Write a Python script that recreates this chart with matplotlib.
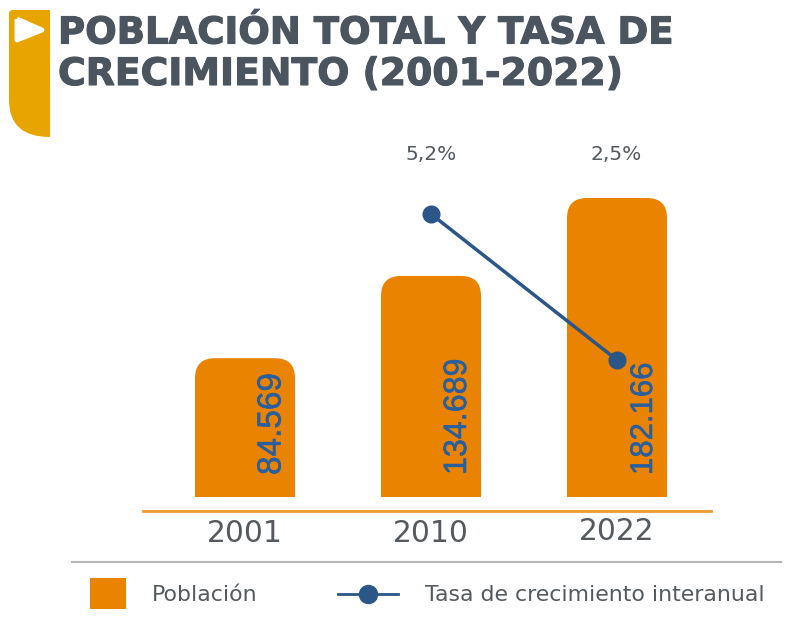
import matplotlib
matplotlib.use("Agg")
import matplotlib.pyplot as plt
import matplotlib.patheffects as pe
from matplotlib.patches import Rectangle, PathPatch
from matplotlib.path import Path

years = ["2001", "2010", "2022"]
poblacion = [84569, 134689, 182166]
labels = ["84.569", "134.689", "182.166"]
tasa = [5.2, 2.5]
tasa_labels = ["5,2%", "2,5%"]

W, H = 811, 628
ORANGE = "#ea8300"
BLUE = "#2a5688"
LABEL_BLUE = "#2a5f9e"
GREY = "#4a5560"
TEXT = "#555a5e"

plt.rcParams["font.family"] = ["DejaVu Sans"]

fig = plt.figure(figsize=(W / 100, H / 100), dpi=100)

# page overlay in pixel coords
bg = fig.add_axes([0, 0, 1, 1])
bg.set_xlim(0, W)
bg.set_ylim(H, 0)
bg.axis("off")

# title tab
tab = Path([(13, 10), (50, 10), (50, 137), (9, 137), (9, 100), (9, 14), (9, 10), (13, 10)],
           [Path.MOVETO, Path.LINETO, Path.LINETO, Path.CURVE3, Path.CURVE3,
            Path.LINETO, Path.CURVE3, Path.CURVE3])
bg.add_patch(PathPatch(tab, fc="#e8a400", ec="none"))
tri = Path([(17, 19), (42, 30), (17, 40), (17, 19)])
bg.add_patch(PathPatch(tri, fc="white", ec="white", lw=3.5, joinstyle="round"))

title_fx = [pe.withStroke(linewidth=0.8, foreground=GREY)]
bg.text(58, 33, "POBLACIÓN TOTAL Y TASA DE", fontsize=26.7, fontweight="bold", color=GREY,
        va="center", ha="left", path_effects=title_fx)
bg.text(58, 75, "CRECIMIENTO (2001-2022)", fontsize=27.2, fontweight="bold", color=GREY,
        va="center", ha="left", path_effects=title_fx)

# main axes: x data 0,1,2 -> px 245,431,617; y 0 at px 497
ax_left, ax_right = 143, 711
ax_top, ax_bottom = 140, 497
ax = fig.add_axes([ax_left / W, 1 - ax_bottom / H, (ax_right - ax_left) / W, (ax_bottom - ax_top) / H])
ax.axis("off")
step = 186
ax.set_xlim((ax_left - 245) / step, (ax_right - 245) / step)
px_per = (497 - 198) / poblacion[2]
ax.set_ylim(0, (ax_bottom - ax_top) / px_per)

bw = 100 / step
label_sizes = [24, 23.2, 22.4]
for i, v in enumerate(poblacion):
    left = i - bw / 2
    r_x = 20 / step
    r_y = 20 / px_per
    verts = [(left, 0), (left, v - r_y), (left, v), (left + r_x, v),
             (left + bw - r_x, v), (left + bw, v), (left + bw, v - r_y), (left + bw, 0), (left, 0)]
    codes = [Path.MOVETO, Path.LINETO, Path.CURVE3, Path.CURVE3, Path.LINETO,
             Path.CURVE3, Path.CURVE3, Path.LINETO, Path.CLOSEPOLY]
    ax.add_patch(PathPatch(Path(verts, codes), fc=ORANGE, ec="none"))
    ax.text(i + 27 / step, 22 / px_per, labels[i], rotation=90, ha="center", va="bottom",
            fontsize=label_sizes[i], color=LABEL_BLUE, family=["Liberation Sans"],
            path_effects=[pe.withStroke(linewidth=0.4, foreground=LABEL_BLUE)])

# rate line is drawn on its own scale
ax2 = ax.twinx()
ax2.axis("off")
# 5.2 -> px 214, 2.5 -> px 360
p = (360 - 214) / (5.2 - 2.5)
ax2.set_ylim(2.5 - (ax_bottom - 360) / p, 5.2 + (214 - ax_top) / p)
ax2.plot([1, 2], tasa, color=BLUE, lw=2.5, marker="o", ms=12, mfc=BLUE, mec=BLUE)

for i, t in zip([1, 2], tasa_labels):
    bg.text(245 + i * step - (0 if i == 1 else 1), 154, t, fontsize=14.5, color=TEXT, ha="center", va="center")

# axis line + years
bg.plot([143, 711], [511, 511], color="#ee9a2e", lw=2)
for i, y in enumerate(years):
    bg.text(245 + i * step, 534 if i < 2 else 532, y, fontsize=21.4, color=TEXT, ha="center", va="center")

# legend
bg.plot([72, 781], [561.5, 561.5], color="#b4b6b8", lw=1.5)
bg.add_patch(Rectangle((90, 578), 36, 31, fc=ORANGE, ec="none"))
bg.text(152, 595, "Población", fontsize=15.8, color=TEXT, ha="left", va="center")
bg.plot([338, 398], [594, 594], color=BLUE, lw=2)
bg.plot([368], [594], marker="o", ms=13, color=BLUE)
bg.text(425, 595, "Tasa de crecimiento interanual", fontsize=15.8, color=TEXT, ha="left", va="center")

fig.savefig("out.png", dpi=100)
